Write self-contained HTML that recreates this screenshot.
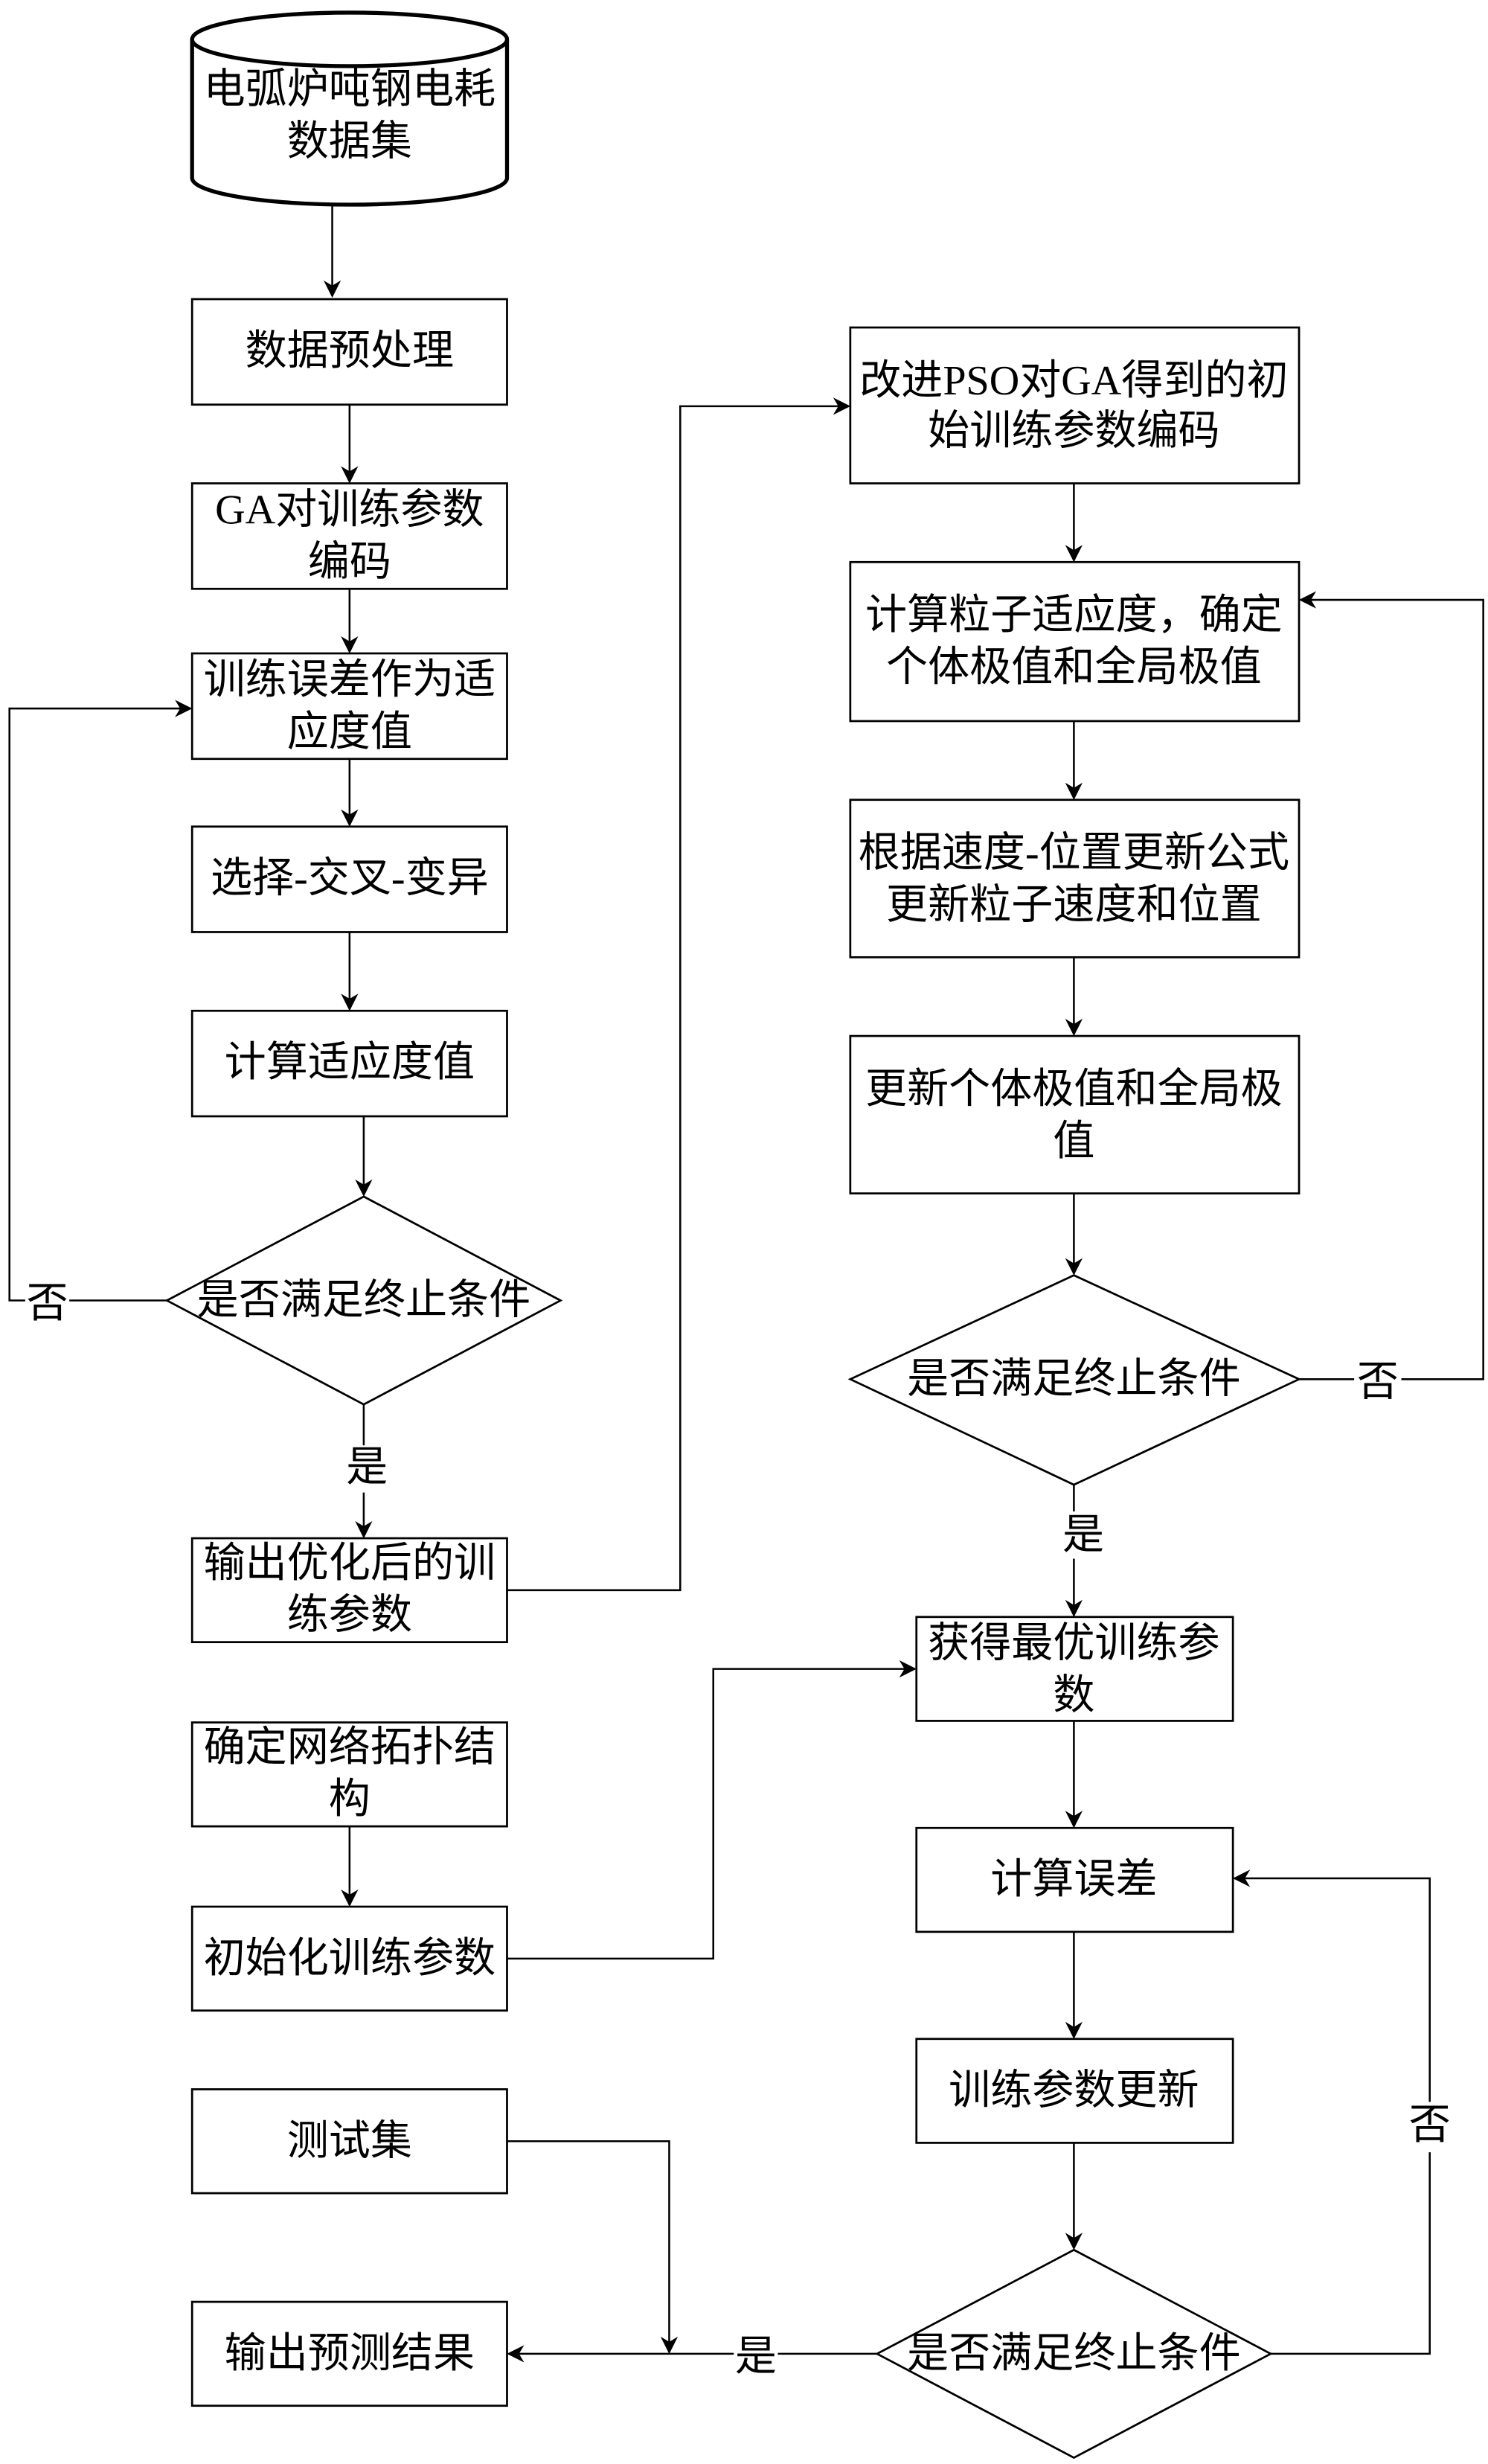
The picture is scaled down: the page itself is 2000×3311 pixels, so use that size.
<!DOCTYPE html>
<html><head><meta charset="utf-8"><style>
html,body{margin:0;padding:0;background:#fff}
svg{display:block}
text{font-family:"Liberation Serif","Noto Sans CJK SC",sans-serif;font-size:26.5px;fill:#000;text-anchor:middle;dominant-baseline:central}
.b{fill:#fff;stroke:#000;stroke-width:1.3}
.l{fill:none;stroke:#000;stroke-width:1.2}
</style></head><body>
<svg width="2000" height="3311" viewBox="0 0 945 1565" preserveAspectRatio="none">
<defs><marker id="a" viewBox="0 0 10 10" refX="9" refY="5" markerWidth="11" markerHeight="11" markerUnits="userSpaceOnUse" orient="auto"><path d="M0,0 L10,5 L0,10 L3,5 z" fill="#000"/></marker></defs>

<!-- cylinder -->
<path class="b" d="M122,25 L122,113 A100,17 0 0 0 322,113 L322,25" style="stroke-width:2.5"/>
<ellipse class="b" cx="222" cy="25" rx="100" ry="17" style="stroke-width:2.5"/>
<text x="222" y="57">电弧炉吨钢电耗</text><text x="222" y="90">数据集</text>

<!-- left column -->
<line class="l" x1="211" y1="130" x2="211" y2="188" marker-end="url(#a)"/>
<rect class="b" x="122" y="190" width="200" height="67"/><text x="222" y="223">数据预处理</text>
<line class="l" x1="222" y1="257" x2="222" y2="306" marker-end="url(#a)"/>
<rect class="b" x="122" y="307" width="200" height="67"/><text x="222" y="324">GA对训练参数</text><text x="222" y="357">编码</text>
<line class="l" x1="222" y1="374" x2="222" y2="414" marker-end="url(#a)"/>
<rect class="b" x="122" y="415" width="200" height="67"/><text x="222" y="432">训练误差作为适</text><text x="222" y="465">应度值</text>
<line class="l" x1="222" y1="482" x2="222" y2="524" marker-end="url(#a)"/>
<rect class="b" x="122" y="525" width="200" height="67"/><text x="222" y="558">选择-交叉-变异</text>
<line class="l" x1="222" y1="592" x2="222" y2="641" marker-end="url(#a)"/>
<rect class="b" x="122" y="642" width="200" height="67"/><text x="222" y="675">计算适应度值</text>
<line class="l" x1="231" y1="709" x2="231" y2="759" marker-end="url(#a)"/>
<polygon class="b" points="231,760 356,826 231,892 106,826"/><text x="231" y="826">是否满足终止条件</text>
<polyline class="l" points="106,826 6,826 6,450 121,450" marker-end="url(#a)"/>
<rect x="16" y="812" width="28" height="30" fill="#fff"/><text x="30" y="828">否</text>
<line class="l" x1="231" y1="892" x2="231" y2="976" marker-end="url(#a)"/>
<rect x="218" y="918" width="28" height="30" fill="#fff"/><text x="233" y="932">是</text>
<rect class="b" x="122" y="977" width="200" height="66"/><text x="222" y="993">输出优化后的训</text><text x="222" y="1026">练参数</text>
<polyline class="l" points="322,1010 432,1010 432,258 539,258" marker-end="url(#a)"/>

<rect class="b" x="122" y="1094" width="200" height="66"/><text x="222" y="1110">确定网络拓扑结</text><text x="222" y="1143">构</text>
<line class="l" x1="222" y1="1160" x2="222" y2="1210" marker-end="url(#a)"/>
<rect class="b" x="122" y="1211" width="200" height="66"/><text x="222" y="1244">初始化训练参数</text>
<polyline class="l" points="322,1244 453,1244 453,1060 581,1060" marker-end="url(#a)"/>

<rect class="b" x="122" y="1327" width="200" height="66"/><text x="222" y="1360">测试集</text>
<polyline class="l" points="322,1360 425,1360 425,1494" marker-end="url(#a)"/>
<rect class="b" x="122" y="1462" width="200" height="66"/><text x="222" y="1495">输出预测结果</text>

<!-- right column -->
<rect class="b" x="540" y="208" width="285" height="99"/><text x="682" y="242">改进PSO对GA得到的初</text><text x="682" y="274">始训练参数编码</text>
<line class="l" x1="682" y1="307" x2="682" y2="356" marker-end="url(#a)"/>
<rect class="b" x="540" y="357" width="285" height="101"/><text x="682" y="391">计算粒子适应度，确定</text><text x="682" y="424">个体极值和全局极值</text>
<line class="l" x1="682" y1="458" x2="682" y2="507" marker-end="url(#a)"/>
<rect class="b" x="540" y="508" width="285" height="100"/><text x="682" y="542">根据速度-位置更新公式</text><text x="682" y="575">更新粒子速度和位置</text>
<line class="l" x1="682" y1="608" x2="682" y2="657" marker-end="url(#a)"/>
<rect class="b" x="540" y="658" width="285" height="100"/><text x="682" y="692">更新个体极值和全局极</text><text x="682" y="725">值</text>
<line class="l" x1="682" y1="758" x2="682" y2="809" marker-end="url(#a)"/>
<polygon class="b" points="682,810 825,876 682,943 540,876"/><text x="682" y="876">是否满足终止条件</text>
<polyline class="l" points="825,876 942,876 942,381 826,381" marker-end="url(#a)"/>
<rect x="860" y="862" width="30" height="30" fill="#fff"/><text x="875" y="878">否</text>
<line class="l" x1="682" y1="943" x2="682" y2="1026" marker-end="url(#a)"/>
<rect x="674" y="960" width="28" height="30" fill="#fff"/><text x="688" y="975">是</text>
<rect class="b" x="582" y="1027" width="201" height="66"/><text x="682" y="1044">获得最优训练参</text><text x="682" y="1077">数</text>
<line class="l" x1="682" y1="1093" x2="682" y2="1160" marker-end="url(#a)"/>
<rect class="b" x="582" y="1161" width="201" height="66"/><text x="682" y="1194">计算误差</text>
<line class="l" x1="682" y1="1227" x2="682" y2="1294" marker-end="url(#a)"/>
<rect class="b" x="582" y="1295" width="201" height="66"/><text x="682" y="1328">训练参数更新</text>
<line class="l" x1="682" y1="1361" x2="682" y2="1428" marker-end="url(#a)"/>
<polygon class="b" points="682,1429 807,1495 682,1561 557,1495"/><text x="682" y="1495">是否满足终止条件</text>
<polyline class="l" points="807,1495 908,1495 908,1193 784,1193" marker-end="url(#a)"/>
<rect x="894" y="1335" width="28" height="32" fill="#fff"/><text x="908" y="1350">否</text>
<line class="l" x1="557" y1="1495" x2="323" y2="1495" marker-end="url(#a)"/>
<rect x="466" y="1482" width="28" height="28" fill="#fff"/><text x="480" y="1497">是</text>
</svg>
</body></html>
